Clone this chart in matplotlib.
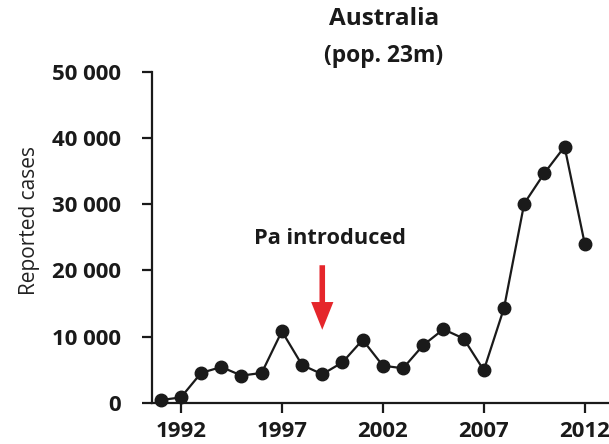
import matplotlib.pyplot as plt
from matplotlib.ticker import FuncFormatter

plt.rcParams['font.family'] = ['Open Sans', 'DejaVu Sans']

# Reported pertussis cases per year
years = list(range(1991, 2013))
cases = [400, 800, 4500, 5400, 4100, 4500, 10800, 5700, 4300, 6100, 9500,
         5600, 5200, 8700, 11100, 9700, 4900, 14300, 30100, 34700, 38700, 24000]

tick_years = [1992, 1997, 2002, 2007, 2012]
y_ticks = [0, 10000, 20000, 30000, 40000, 50000]

fig = plt.figure(figsize=(6.09, 4.44), dpi=100)
ax = fig.add_axes([0.249, 0.093, 0.751, 0.745])

ax.plot(years, cases, color='#1a1a1a', linewidth=1.6, marker='o',
        markersize=9, clip_on=False, zorder=3)

ax.set_xlim(1990.55, 2013.2)
ax.set_ylim(0, 50000)
ax.set_xticks(tick_years)
ax.set_yticks(y_ticks)
ax.yaxis.set_major_formatter(FuncFormatter(lambda v, p: f'{int(v):,}'.replace(',', ' ')))

ax.spines['top'].set_visible(False)
ax.spines['right'].set_visible(False)
for s in ['left', 'bottom']:
    ax.spines[s].set_linewidth(1.6)
    ax.spines[s].set_color('#1a1a1a')
ax.tick_params(axis='both', length=7, width=1.6, color='#1a1a1a', labelsize=16)
ax.tick_params(axis='y', pad=15)
ax.tick_params(axis='x', pad=6)
for lab in ax.get_xticklabels() + ax.get_yticklabels():
    lab.set_fontweight('bold')
    lab.set_color('#1a1a1a')

ax.set_ylabel('Reported cases', fontsize=15, color='#222222')
ax.yaxis.set_label_coords(-0.245, 0.55)

fig.text(0.63, 0.957, 'Australia', ha='center', va='center', fontsize=17.5,
         fontweight='bold', color='#1a1a1a')
fig.text(0.63, 0.874, '(pop. 23m)', ha='center', va='center', fontsize=16.5,
         fontweight='bold', color='#1a1a1a')

# Arrow marking introduction of the acellular vaccine
ax.annotate('', xy=(1999, 10600), xytext=(1999, 21200),
            arrowprops=dict(arrowstyle='simple,head_length=1.0,head_width=0.8,tail_width=0.2',
                            mutation_scale=20, color='#e5262b', linewidth=0))
ax.text(1999.4, 24800, 'Pa introduced', ha='center', va='center',
        fontsize=15.7, fontweight='bold', color='#1a1a1a')

fig.savefig('out.png', dpi=100)
